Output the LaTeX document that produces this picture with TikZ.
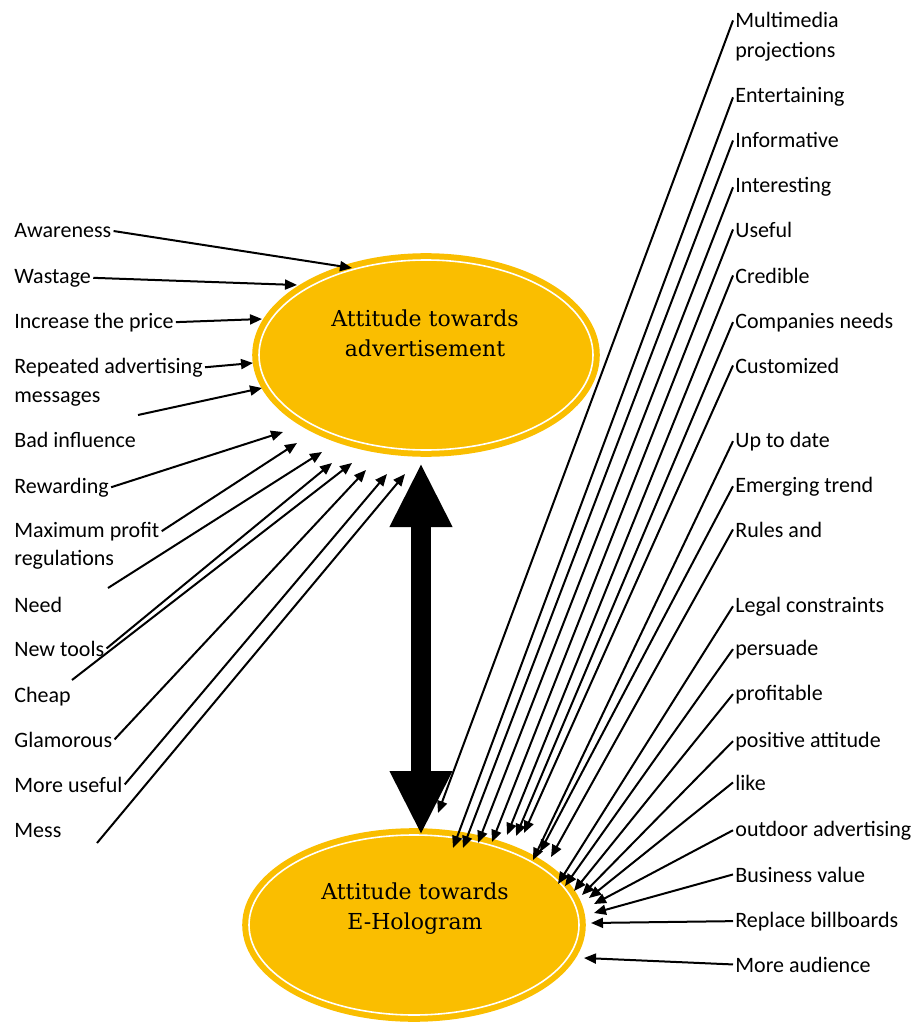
\documentclass[tikz,border=0pt]{standalone}
\usepackage{fontspec}
\setmainfont{Carlito}
\newfontfamily\ellfont{DejaVu Serif}
\usetikzlibrary{shapes.geometric,arrows.meta}
\definecolor{gold}{RGB}{250,190,0}

\begin{document}
\begin{tikzpicture}[x=.5pt, y=-.5pt,
  lbl/.style={anchor=base west, inner sep=1pt, font=\fontsize{11}{13}\selectfont},
  att/.style={ellipse, fill=gold, draw=gold, line width=3pt, double=white, double distance=.8pt, inner sep=0pt},
  atttxt/.style={align=center, inner sep=0pt, font=\ellfont\fontsize{11}{15}\selectfont},
  arr/.style={line width=1pt, -{Triangle[length=6pt,width=5pt]}}]
  \useasboundingbox (0,0) rectangle (913,1027);

  % the two attitudes
  \node[att, minimum width=167pt, minimum height=95pt] (adv) at (426,355) {};
  \node[atttxt] (advtxt) at (425,333) {Attitude towards\\advertisement};
  \node[att, minimum width=165pt, minimum height=90pt] (hol) at (414,925) {};
  \node[atttxt] (holtxt) at (415,909) {Attitude towards\\E-Hologram};

  \coordinate (U) at (421,463);
  \coordinate (D) at (421,835);
  \draw[line width=10pt, {Triangle[length=32pt,width=29pt]}-{Triangle[length=32pt,width=29pt]}] (U)--(D);

  % left labels
  \node[lbl] (awa) at (12,238) {Awareness};
  \node[lbl] (was) at (12,283) {Wastage};
  \node[lbl] (inc) at (12,328) {Increase the price};
  \node[lbl] (rep) at (12,373) {Repeated advertising};
  \node[lbl] (mes) at (12,402) {messages};
  \node[lbl] (bad) at (12,447) {Bad influence};
  \node[lbl] (rew) at (12,493) {Rewarding};
  \node[lbl] (max) at (12,537) {Maximum profit};
  \node[lbl] (reg) at (12,565) {regulations};
  \node[lbl] (nee) at (12,612) {Need};
  \node[lbl] (new) at (12,656) {New tools};
  \node[lbl] (che) at (12,702) {Cheap};
  \node[lbl] (gla) at (12,747) {Glamorous};
  \node[lbl] (mor) at (12,792) {More useful};
  \node[lbl] (mess) at (12,837) {Mess};

  % right labels
  \node[lbl] (mul) at (733,28) {Multimedia};
  \node[lbl] (proj) at (733,58) {projections};
  \node[lbl] (ent) at (733,103) {Entertaining};
  \node[lbl] (inf) at (733,148) {Informative};
  \node[lbl] (int) at (733,193) {Interesting};
  \node[lbl] (usf) at (733,237) {Useful};
  \node[lbl] (cre) at (733,283) {Credible};
  \node[lbl] (com) at (733,328) {Companies needs};
  \node[lbl] (cus) at (733,373) {Customized};
  \node[lbl] (upd) at (733,447) {Up to date};
  \node[lbl] (eme) at (733,492) {Emerging trend};
  \node[lbl] (rul) at (733,537) {Rules and};
  \node[lbl] (leg) at (733,612) {Legal constraints};
  \node[lbl] (per) at (733,655) {persuade};
  \node[lbl] (prf) at (733,700) {profitable};
  \node[lbl] (pos) at (733,747) {positive attitude};
  \node[lbl] (lik) at (733,790) {like};
  \node[lbl] (out) at (733,836) {outdoor advertising};
  \node[lbl] (bus) at (733,882) {Business value};
  \node[lbl] (bil) at (733,927) {Replace billboards};
  \node[lbl] (aud) at (733,972) {More audience};

  % arrow ends at the top ellipse
  \coordinate (a1) at (352,268);  \coordinate (a2) at (297,285);
  \coordinate (a3) at (262,319);  \coordinate (a4) at (253,363);
  \coordinate (a5) at (262,388);  \coordinate (a6) at (283,432);
  \coordinate (a7) at (297,443);  \coordinate (a8) at (322,452);
  \coordinate (a9) at (332,463);  \coordinate (a10) at (352,463);
  \coordinate (a11) at (366,470); \coordinate (a12) at (387,474);
  \coordinate (a13) at (405,474);
  \coordinate (s1) at (138,415);  \coordinate (s2) at (108,588);
  \coordinate (s3) at (72,680);   \coordinate (s4) at (97,843);

  \draw[arr] (awa.east)--(a1);
  \draw[arr] (was.east)--(a2);
  \draw[arr] (inc.east)--(a3);
  \draw[arr] (rep.east)--(a4);
  \draw[arr] (s1)--(a5);
  \draw[arr] (rew.east)--(a6);
  \draw[arr] (max.east)--(a7);
  \draw[arr] (s2)--(a8);
  \draw[arr] (new.east)--(a9);
  \draw[arr] (s3)--(a10);
  \draw[arr] (gla.east)--(a11);
  \draw[arr] (mor.east)--(a12);
  \draw[arr] (s4)--(a13);

  % arrow ends at the bottom ellipse
  \coordinate (b1) at (438,813);  \coordinate (b2) at (453,848);
  \coordinate (b3) at (463,848);  \coordinate (b4) at (478,843);
  \coordinate (b5) at (492,842);  \coordinate (b6) at (507,835);
  \coordinate (b7) at (516,836);  \coordinate (b8) at (524,833);
  \coordinate (b9) at (533,860);  \coordinate (b10) at (540,852);
  \coordinate (b11) at (551,857); \coordinate (b12) at (558,884);
  \coordinate (b13) at (565,886); \coordinate (b14) at (574,891);
  \coordinate (b15) at (582,895); \coordinate (b16) at (589,898);
  \coordinate (b17) at (594,904); \coordinate (b18) at (594,913);
  \coordinate (b19) at (591,923); \coordinate (b20) at (584,958);

  \draw[arr] (mul.west)--(b1);
  \draw[arr] (ent.west)--(b2);
  \draw[arr] (inf.west)--(b3);
  \draw[arr] (int.west)--(b4);
  \draw[arr] (usf.west)--(b5);
  \draw[arr] (cre.west)--(b6);
  \draw[arr] (com.west)--(b7);
  \draw[arr] (cus.west)--(b8);
  \draw[arr] (upd.west)--(b9);
  \draw[arr] (eme.west)--(b10);
  \draw[arr] (rul.west)--(b11);
  \draw[arr] (leg.west)--(b12);
  \draw[arr] (per.west)--(b13);
  \draw[arr] (prf.west)--(b14);
  \draw[arr] (pos.west)--(b15);
  \draw[arr] (lik.west)--(b16);
  \draw[arr] (out.west)--(b17);
  \draw[arr] (bus.west)--(b18);
  \draw[arr] (bil.west)--(b19);
  \draw[arr] (aud.west)--(b20);
\end{tikzpicture}
\end{document}
